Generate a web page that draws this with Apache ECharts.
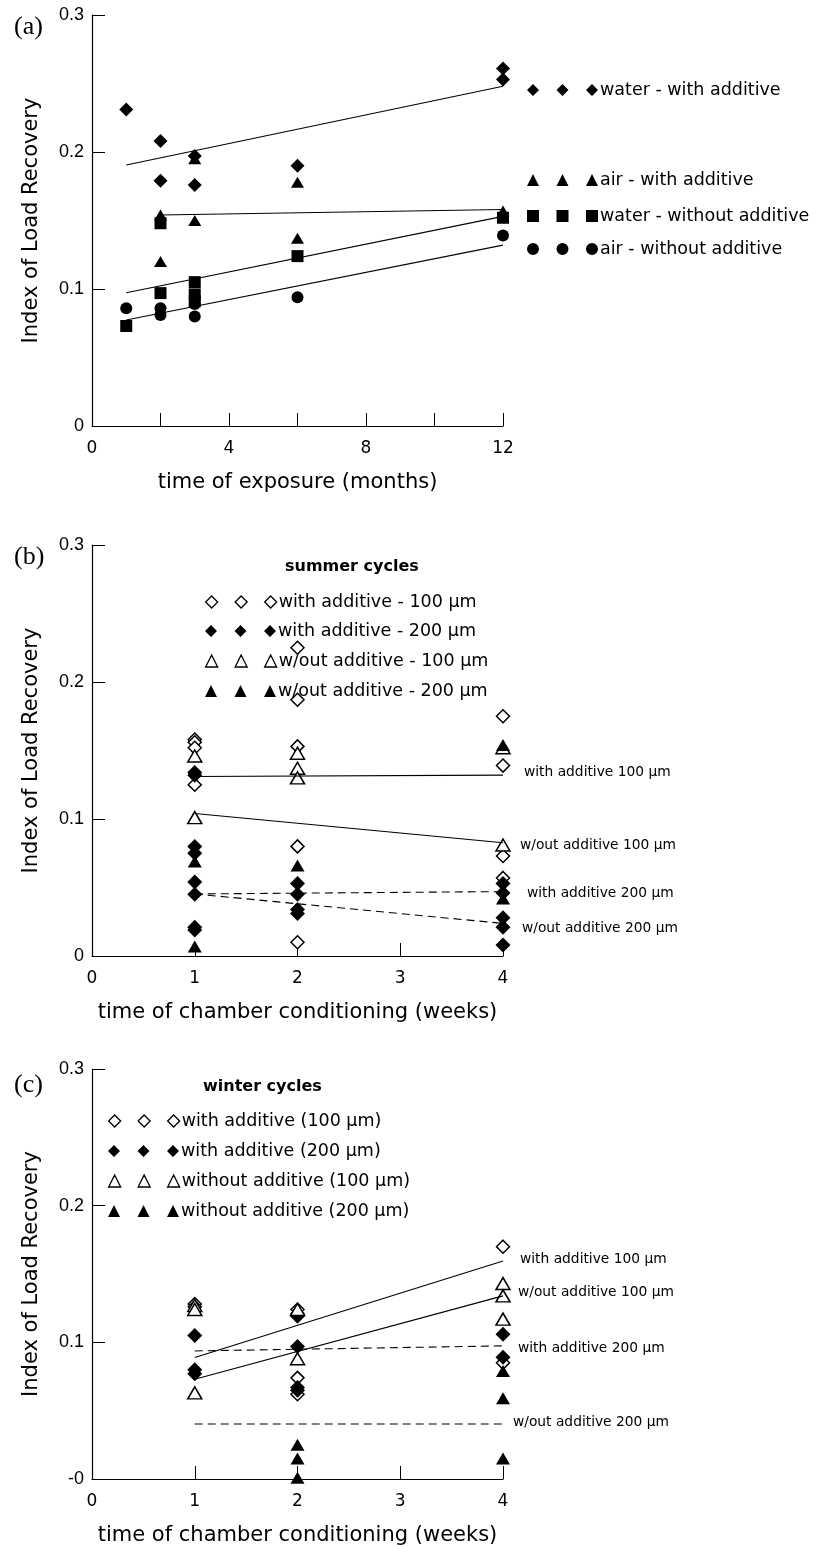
<!DOCTYPE html>
<html>
<head>
<meta charset="utf-8">
<script src="https://cdn.jsdelivr.net/npm/echarts@6/dist/echarts.min.js"></script>
<style>html,body{margin:0;padding:0;background:#fff}#c{width:818px;height:1547px}</style>
</head>
<body>
<div id="c"></div>
<script>
// ---------- DATA ----------
// Panel (a): time of exposure (months)
const aWaterWith    = [[1,0.231],[2,0.208],[2,0.179],[3,0.197],[3,0.176],[6,0.190],[12,0.261],[12,0.253]];
const aAirWith      = [[2,0.154],[2,0.120],[3,0.195],[3,0.150],[6,0.178],[6,0.137],[12,0.157]];
const aWaterWithout = [[1,0.073],[2,0.148],[2,0.097],[3,0.105],[3,0.096],[3,0.091],[6,0.124],[12,0.152]];
const aAirWithout   = [[1,0.086],[2,0.086],[2,0.081],[3,0.089],[3,0.080],[6,0.094],[12,0.139]];
const aTrendWaterWith    = [[1,0.1905],[12,0.248]];
const aTrendAirWith      = [[2,0.154],[12,0.158]];
const aTrendWaterWithout = [[1,0.0973],[12,0.153]];
const aTrendAirWithout   = [[1,0.0774],[12,0.132]];
const aXTicks = [0,4,8,12];

// Panel (b): summer cycles (weeks)
const bWith100  = [[1,0.158],[1,0.156],[1,0.152],[1,0.125],[2,0.225],[2,0.187],[2,0.153],[2,0.080],[2,0.010],[4,0.175],[4,0.139],[4,0.073],[4,0.057]];
const bWith200  = [[1,0.134],[1,0.132],[1,0.080],[1,0.075],[1,0.054],[1,0.045],[1,0.021],[1,0.019],[2,0.053],[2,0.045],[2,0.034],[2,0.031],[4,0.053],[4,0.046],[4,0.028],[4,0.021],[4,0.008]];
const bWout100  = [[1,0.146],[1,0.101],[2,0.148],[2,0.137],[2,0.130],[4,0.152],[4,0.081]];
const bWout200  = [[1,0.069],[1,0.007],[2,0.066],[4,0.154],[4,0.042]];
const bTrendWith100 = [[1,0.131],[4,0.132]];
const bTrendWout100 = [[1,0.104],[4,0.0827]];
const bTrendWith200 = [[1,0.0453],[4,0.047]];
const bTrendWout200 = [[1,0.0453],[4,0.0238]];

// Panel (c): winter cycles (weeks)
const cWith100  = [[1,0.128],[1,0.126],[2,0.124],[2,0.074],[2,0.062],[4,0.170],[4,0.085]];
const cWith200  = [[1,0.105],[1,0.080],[1,0.077],[2,0.121],[2,0.119],[2,0.097],[2,0.067],[2,0.065],[4,0.106],[4,0.089]];
const cWout100  = [[1,0.127],[1,0.124],[1,0.063],[2,0.124],[2,0.088],[4,0.143],[4,0.134],[4,0.117]];
const cWout200  = [[2,0.025],[2,0.015],[2,0.001],[4,0.079],[4,0.059],[4,0.015]];
const cTrendWith100 = [[1,0.0889],[4,0.1595]];
const cTrendWout100 = [[1,0.073],[4,0.134]];
const cTrendWith200 = [[1,0.0937],[4,0.0974]];
const cTrendWout200 = [[1,0.0402],[4,0.0402]];

const yTicks = [0,0.1,0.2,0.3];

// ---------- STYLE / BUILD ----------
const COMIC = 'DejaVu Sans';
const ARIAL = 'Liberation Sans';
const SERIF = 'Liberation Serif';
const BLACK = '#000';

function tri3(shape){
  const offs=[0,29.5,59]; let s='';
  offs.forEach(o=>{
    if(shape==='diamond') s+=`M${o+6},0 L${o+12},6 L${o+6},12 L${o},6 Z `;
    if(shape==='triangle') s+=`M${o+6},0 L${o+12},12 L${o},12 Z `;
    if(shape==='rect') s+=`M${o},0 L${o+12},0 L${o+12},12 L${o},12 Z `;
    if(shape==='circle') s+=`M${o},6 A6,6 0 1 1 ${o+12},6 A6,6 0 1 1 ${o},6 Z `;
  });
  return 'path://'+s.trim();
}

const grids = [
  {left:92, top:15, width:411, height:411},
  {left:92, top:545, width:411, height:411},
  {left:92, top:1069, width:411, height:411}
];

function xAxis(i, max, interval, name, fmt){
  return {
    type:'value', gridIndex:i, min:0, max:max, interval:interval,
    name:name, nameLocation:'middle', nameGap:46,
    nameTextStyle:{fontFamily:COMIC, fontSize:21, color:BLACK},
    axisLine:{lineStyle:{color:BLACK, width:1.2}},
    axisTick:{inside:true, length:13, lineStyle:{color:BLACK, width:1}},
    axisLabel:{fontFamily:COMIC, fontSize:17, color:BLACK, margin:14, formatter:fmt},
    splitLine:{show:false}
  };
}
function yAxis(i, fmt){
  return {
    type:'value', gridIndex:i, min:0, max:0.3, interval:0.1,
    name:'Index of Load Recovery', nameLocation:'middle', nameGap:50,
    nameTextStyle:{fontFamily:COMIC, fontSize:21, color:BLACK},
    axisLine:{lineStyle:{color:BLACK, width:1.2}},
    axisTick:{inside:true, length:13, lineStyle:{color:BLACK, width:1}},
    axisLabel:{fontFamily:ARIAL, fontSize:18, color:BLACK, margin:8, formatter:fmt},
    splitLine:{show:false}
  };
}
const yFmt = v => { const t = yTicks.find(k=>Math.abs(k-v)<1e-9); return t===undefined?'':(t===0?'0':String(t)); };
const yFmtC = v => (Math.abs(v)<1e-9 ? '-0' : yFmt(v));

const series = [];
function scatter(i, name, data, symbol, size, open){
  series.push({
    type:'scatter', name:name, xAxisIndex:i, yAxisIndex:i, data:data,
    symbol:symbol, symbolSize:size, z:3,
    itemStyle: open ? {color:'#fff', borderColor:BLACK, borderWidth:1.5, opacity:1}
                    : {color:BLACK, borderWidth:0, opacity:1},
    emphasis:{disabled:true}
  });
}
function trend(i, name, data, dashed, label, dist, dy){
  const s = {
    type:'line', name:name, xAxisIndex:i, yAxisIndex:i, data:data,
    symbol:'none', z:4, silent:true,
    lineStyle:{color:BLACK, width:1.1, type: dashed ? [8,5] : 'solid'}
  };
  if(label){
    s.endLabel = {show:true, formatter:label, distance:dist, offset:[0,dy||0],
      fontFamily:COMIC, fontSize:13.8, color:BLACK};
  }
  series.push(s);
}

// panel a
scatter(0,'water - with additive', aWaterWith, 'diamond', 14, false);
scatter(0,'air - with additive', aAirWith, 'triangle', [13,11], false);
scatter(0,'water - without additive', aWaterWithout, 'rect', 12, false);
scatter(0,'air - without additive', aAirWithout, 'circle', 12, false);
trend(0,'ta1', aTrendWaterWith, false);
trend(0,'ta2', aTrendAirWith, false);
trend(0,'ta3', aTrendWaterWithout, false);
trend(0,'ta4', aTrendAirWithout, false);

// panel b
scatter(1,'with additive - 100 \u03bcm', bWith100, 'diamond', 13, true);
scatter(1,'with additive - 200 \u03bcm', bWith200, 'diamond', 15, false);
scatter(1,'w/out additive - 100 \u03bcm', bWout100, 'triangle', [14,12], true);
scatter(1,'w/out additive - 200 \u03bcm', bWout200, 'triangle', [14,12], false);
trend(1,'tb1', bTrendWith100, false, 'with additive 100 \u03bcm', 21, -3);
trend(1,'tb2', bTrendWout100, false, 'w/out additive 100 \u03bcm', 17, 3);
trend(1,'tb3', bTrendWith200, true, 'with additive 200 \u03bcm', 24, 2);
trend(1,'tb4', bTrendWout200, true, 'w/out additive 200 \u03bcm', 19, 5);

// panel c
scatter(2,'with additive (100 \u03bcm)', cWith100, 'diamond', 13, true);
scatter(2,'with additive (200 \u03bcm)', cWith200, 'diamond', 15, false);
scatter(2,'without additive (100 \u03bcm)', cWout100, 'triangle', [14,12], true);
scatter(2,'without additive (200 \u03bcm)', cWout200, 'triangle', [14,12], false);
trend(2,'tc1', cTrendWith100, false, 'with additive 100 \u03bcm', 17, -2);
trend(2,'tc2', cTrendWout100, false, 'w/out additive 100 \u03bcm', 15, -3);
trend(2,'tc3', cTrendWith200, true, 'with additive 200 \u03bcm', 15, 3);
trend(2,'tc4', cTrendWout200, true, 'w/out additive 200 \u03bcm', 10, -2);

function legendItem(name, shape, left, centerY, fontSize, open){
  return {
    data:[{name:name, icon:tri3(shape)}], left:left, top:centerY-6,
    orient:'vertical', padding:0, itemWidth:71, itemHeight:12, itemGap:0,
    selectedMode:false,
    itemStyle:{borderWidth: open?1.3:0},
    textStyle:{fontFamily:COMIC, fontSize:fontSize, color:BLACK, padding:[0,0,0,-3]}
  };
}
const LF = 17.5;
const legends = [
  legendItem('water - with additive','diamond',527,87,LF,false),
  legendItem('air - with additive','triangle',527,177,LF,false),
  legendItem('water - without additive','rect',527,213,LF,false),
  legendItem('air - without additive','circle',527,246,LF,false),
  legendItem('with additive - 100 \u03bcm','diamond',205,599,LF,true),
  legendItem('with additive - 200 \u03bcm','diamond',205,628,LF,false),
  legendItem('w/out additive - 100 \u03bcm','triangle',205,658,LF,true),
  legendItem('w/out additive - 200 \u03bcm','triangle',205,688,LF,false),
  legendItem('with additive (100 \u03bcm)','diamond',108,1118,LF,true),
  legendItem('with additive (200 \u03bcm)','diamond',108,1148,LF,false),
  legendItem('without additive (100 \u03bcm)','triangle',108,1178,LF,true),
  legendItem('without additive (200 \u03bcm)','triangle',108,1208,LF,false)
];

const titles = [
  {text:'(a)', left:9, top:9, textStyle:{fontFamily:SERIF, fontSize:26, fontWeight:'normal', color:BLACK}},
  {text:'(b)', left:9, top:539, textStyle:{fontFamily:SERIF, fontSize:26, fontWeight:'normal', color:BLACK}},
  {text:'(c)', left:9, top:1067, textStyle:{fontFamily:SERIF, fontSize:26, fontWeight:'normal', color:BLACK}},
  {text:'summer cycles', left:285, top:559, padding:0, textStyle:{fontFamily:COMIC, fontSize:16, fontWeight:'bold', color:BLACK}},
  {text:'winter cycles', left:203, top:1079, padding:0, textStyle:{fontFamily:COMIC, fontSize:16, fontWeight:'bold', color:BLACK}}
];

const option = {
  animation:false,
  backgroundColor:'#fff',
  title:titles,
  legend:legends,
  grid:grids,
  xAxis:[
    xAxis(0,12,2,'time of exposure (months)', v => aXTicks.indexOf(v)>=0 ? String(v) : ''),
    xAxis(1,4,1,'time of chamber conditioning (weeks)', v => String(v)),
    xAxis(2,4,1,'time of chamber conditioning (weeks)', v => String(v))
  ],
  yAxis:[yAxis(0,yFmt), yAxis(1,yFmt), yAxis(2,yFmtC)],
  series:series
};
const chart = echarts.init(document.getElementById('c'), null, {renderer:'canvas'});
chart.setOption(option);
</script>
</body>
</html>
